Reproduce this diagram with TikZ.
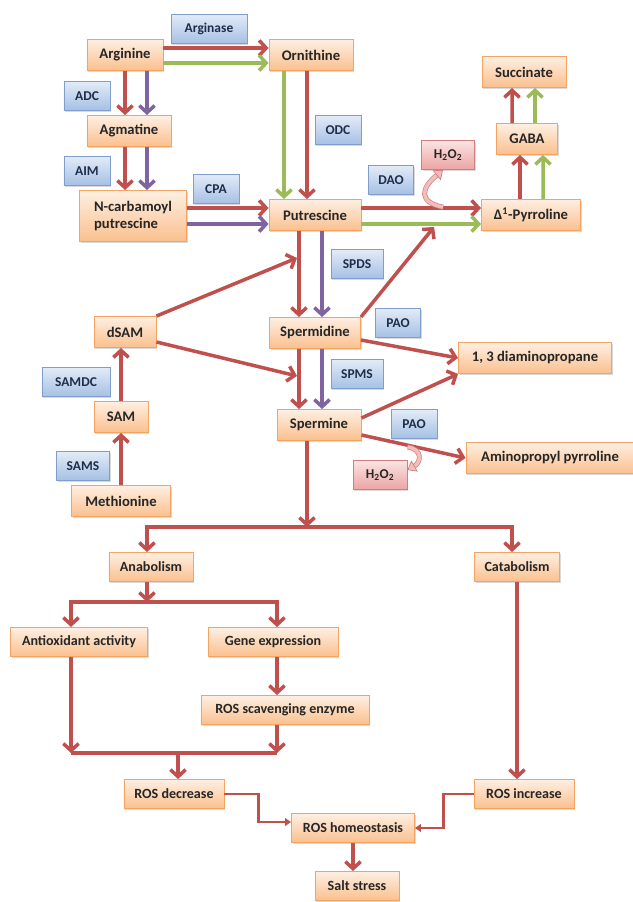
\documentclass[tikz,border=0pt]{standalone}
\usepackage{fontspec}
\setmainfont{Carlito}
\usetikzlibrary{arrows.meta,shadows,calc}
\definecolor{boxtop}{HTML}{FEEFE2}
\definecolor{boxbot}{HTML}{FAC08E}
\definecolor{boxline}{HTML}{F4A462}
\definecolor{enztop}{HTML}{E2EBF7}
\definecolor{enzbot}{HTML}{A6C0E4}
\definecolor{enzline}{HTML}{7F9ECC}
\definecolor{hydtop}{HTML}{FBE4E3}
\definecolor{hydbot}{HTML}{EBA4A3}
\definecolor{hydline}{HTML}{D07F7E}
\definecolor{redc}{HTML}{C0504D}
\definecolor{greenc}{HTML}{9BBB59}
\definecolor{purc}{HTML}{8064A2}
\definecolor{pinkc}{HTML}{F2BDBB}
\definecolor{txt}{HTML}{262626}
\definecolor{enztxt}{HTML}{1F2D4A}

\begin{document}
\begin{tikzpicture}[x=0.03cm, y=-0.03cm,
    >={Straight Barb[length=6pt,width=13pt]},
    box/.style={line width=0.8pt, inner sep=2pt,
      drop shadow={shadow xshift=1.2pt, shadow yshift=-1.4pt, opacity=0.3}},
    mol/.style={box, draw=boxline, top color=boxtop, bottom color=boxbot, text=txt,
      font=\fontsize{12.5}{14}\selectfont\bfseries, minimum height=0.93cm},
    low/.style={mol, font=\fontsize{12}{14}\selectfont\bfseries, minimum height=0.87cm},
    enz/.style={box, draw=enzline, top color=enztop, bottom color=enzbot, text=enztxt,
      font=\fontsize{11.5}{13}\selectfont\bfseries, minimum height=0.86cm},
    hyd/.style={box, draw=hydline, top color=hydtop, bottom color=hydbot, text=txt,
      font=\fontsize{11.5}{13}\selectfont\bfseries, minimum height=0.88cm},
    rd/.style={draw=redc, line width=3pt, ->},
    gr/.style={rd, draw=greenc},
    pu/.style={rd, draw=purc},
    bar/.style={draw=redc, line width=3pt},
    th/.style={draw=redc, line width=1.9pt, -{Triangle[length=5pt,width=6.5pt]}},
    pk/.style={draw=hydline, line width=0.6pt, double=pinkc, double distance=3pt,
      -{Triangle[length=7pt,width=11pt,fill=pinkc]}}]
\useasboundingbox (0,0) rectangle (632,902);

\node[enz, minimum width=2.28cm] (Ase) at (209,29) {Arginase};
\node[mol, minimum width=2.28cm] (Arg) at (125,55) {Arginine};
\node[mol, minimum width=2.52cm] (Orn) at (311,55) {Ornithine};
\node[enz, minimum width=1.38cm] (Adc) at (87,96) {ADC};
\node[mol, minimum width=2.52cm] (Agm) at (129,131) {Agmatine};
\node[enz, minimum width=1.38cm] (Odc) at (338,130) {ODC};
\node[enz, minimum width=1.38cm] (Aim) at (87,171) {AIM};
\node[enz, minimum width=1.38cm] (Cpa) at (216,189) {CPA};
\node[mol, minimum width=3.21cm, minimum height=1.53cm, align=left] (Ncp) at (133,216) {N-carbamoyl\\putrescine};
\node[mol, minimum width=2.76cm] (Put) at (315,215) {Putrescine};
\node[enz, minimum width=1.35cm] (Dao) at (391,180) {DAO};
\node[hyd, minimum width=1.59cm] (Ht) at (448,155) {H\textsubscript{2}O\textsubscript{2}};
\node[mol, minimum width=2.52cm] (Suc) at (524,72) {Succinate};
\node[mol, minimum width=1.83cm] (Gab) at (527,139) {GABA};
\node[mol, minimum width=2.97cm] (Pyr) at (531,215) {Δ\textsuperscript{1}-Pyrroline};
\node[enz, minimum width=1.56cm] (Spds) at (357,264) {SPDS};
\node[mol, minimum width=1.86cm] (Dsam) at (125,332) {dSAM};
\node[mol, minimum width=2.73cm] (Spd) at (315,333) {Spermidine};
\node[enz, minimum width=1.35cm] (Pao) at (398,323) {PAO};
\node[mol, minimum width=4.59cm] (Dap) at (535,358) {1, 3 diaminopropane};
\node[enz, minimum width=2.04cm] (Samdc) at (76,382) {SAMDC};
\node[enz, minimum width=1.56cm] (Spms) at (357,374) {SPMS};
\node[mol, minimum width=1.62cm] (Sam) at (121,417) {SAM};
\node[mol, minimum width=2.52cm] (Spm) at (319,425) {Spermine};
\node[enz, minimum width=1.38cm] (Pao2) at (414,424) {PAO};
\node[mol, minimum width=5.04cm] (App) at (550,458) {Aminopropyl pyrroline};
\node[hyd, minimum width=1.62cm] (Hb) at (380,475) {H\textsubscript{2}O\textsubscript{2}};
\node[enz, minimum width=1.59cm] (Sams) at (83,466) {SAMS};
\node[mol, minimum width=2.97cm] (Met) at (121,501) {Methionine};

\node[low, minimum width=2.52cm] (Ana) at (151,567) {Anabolism};
\node[low, minimum width=2.55cm] (Cat) at (517,567) {Catabolism};
\node[low, minimum width=4.11cm] (Aox) at (79,642) {Antioxidant activity};
\node[low, minimum width=3.9cm] (Gex) at (273,642) {Gene expression};
\node[low, minimum width=5.04cm] (Rse) at (285,710) {ROS scavenging enzyme};
\node[low, minimum width=3cm] (Rde) at (174,794) {ROS decrease};
\node[low, minimum width=3cm] (Rin) at (524,794) {ROS increase};
\node[low, minimum width=3.69cm] (Rho) at (353,828) {ROS homeostasis};
\node[low, minimum width=2.52cm] (Sal) at (357,886) {Salt stress};

\draw[rd] ([yshift=0.21cm]Arg.east) -- ([yshift=0.21cm]Orn.west);
\draw[gr] ([yshift=-0.24cm]Arg.east) -- ([yshift=-0.24cm]Orn.west);
\draw[rd] (Arg.south) -- ([xshift=-0.12cm]Agm.north);
\draw[pu] ([xshift=0.66cm]Arg.south) -- ([xshift=0.54cm]Agm.north);
\draw[rd] ([xshift=-0.12cm]Agm.south) -- ([xshift=-0.24cm]Ncp.north);
\draw[pu] ([xshift=0.54cm]Agm.south) -- ([xshift=0.42cm]Ncp.north);
\draw[rd] ([yshift=0.24cm]Ncp.east) -- ([yshift=0.21cm]Put.west);
\draw[pu] ([yshift=-0.24cm]Ncp.east) -- ([yshift=-0.27cm]Put.west);
\draw[gr] ([xshift=-0.81cm]Orn.south) -- ([xshift=-0.93cm]Put.north);
\draw[rd] ([xshift=-0.12cm]Orn.south) -- ([xshift=-0.24cm]Put.north);
\draw[rd] ([yshift=0.21cm]Put.east) -- ([yshift=0.21cm]Pyr.west);
\draw[gr] ([yshift=-0.27cm]Put.east) -- ([yshift=-0.27cm]Pyr.west);
\draw[rd] ([xshift=-0.33cm]Pyr.north) -- ([xshift=-0.21cm]Gab.south);
\draw[gr] ([xshift=0.36cm]Pyr.north) -- ([xshift=0.48cm]Gab.south);
\draw[rd] ([xshift=-0.45cm]Gab.north) -- ([xshift=-0.36cm]Suc.south);
\draw[gr] ([xshift=0.24cm]Gab.north) -- ([xshift=0.33cm]Suc.south);
\draw[rd] ([xshift=-0.48cm]Put.south) -- ([xshift=-0.48cm]Spd.north);
\draw[pu] ([xshift=0.21cm]Put.south) -- ([xshift=0.21cm]Spd.north);
\draw[rd] ([xshift=-0.48cm]Spd.south) -- ([xshift=-0.6cm]Spm.north);
\draw[pu] ([xshift=0.21cm]Spd.south) -- ([xshift=0.09cm]Spm.north);
\draw[rd] (Dsam.north east) -- ($(Put.south)+(-18,27)$);
\draw[rd] ([yshift=-0.3cm]Dsam.east) -- ($(Spd.south)+(-18,27)$);
\draw[rd] (Spd.north east) -- ($(Pyr.south west)+(-47,-4)$);
\draw[rd] ([yshift=-0.21cm]Spd.east) -- (Dap.west);
\draw[rd] ([yshift=0.21cm]Spm.east) -- (Dap.south west);
\draw[rd] ([yshift=-0.3cm]Spm.east) -- (App.west);
\draw[rd] (Met.north) -- (Sam.south);
\draw[rd] (Sam.north) -- (Sam.north |- Dsam.south);
\draw[pk] ($(Ht.south)+(-5,37)$) .. controls +(-25,-5) and +(-22,18) .. ([xshift=-0.15cm]Ht.south);
\draw[pk] ($(Hb.east)+(0,-28)$) .. controls +(15,2) and +(14,-8) .. ([yshift=0.15cm]Hb.east);

\coordinate (S) at (307,527); \coordinate (SL) at (147,527); \coordinate (SR) at (512,527);
\draw[rd] (Spm.south -| S) -- (S);
\draw[rd, <->] (Ana.north -| SL) -- (SL) -- (SR) -- (Cat.north -| SR);
\coordinate (A) at (147,602); \coordinate (AL) at (71,602); \coordinate (AR) at (277,602);
\draw[rd] (Ana.south -| A) -- (A);
\draw[rd, <->] (Aox.north -| AL) -- (AL) -- (AR) -- (Gex.north -| AR);
\draw[rd] (Gex.south -| AR) -- (Rse.north -| AR);
\coordinate (B) at (178,753); \coordinate (BL) at (71,753); \coordinate (BR) at (277,753);
\draw[rd] (Aox.south -| BL) -- (BL);
\draw[rd] (Rse.south -| BR) -- (BR);
\draw[bar] (BL) -- (BR);
\draw[rd] (B) -- (Rde.north -| B);
\draw[rd] (Cat.south) -- (Rin.north -| Cat.south);
\draw[th] (Rde.east) -- ++(34,0) |- ([yshift=0.18cm]Rho.west);
\draw[th] (Rin.west) -- ++(-30,0) |- (Rho.east);
\draw[rd] (Rho.south) -- (Rho.south |- Sal.north);
\end{tikzpicture}
\end{document}
